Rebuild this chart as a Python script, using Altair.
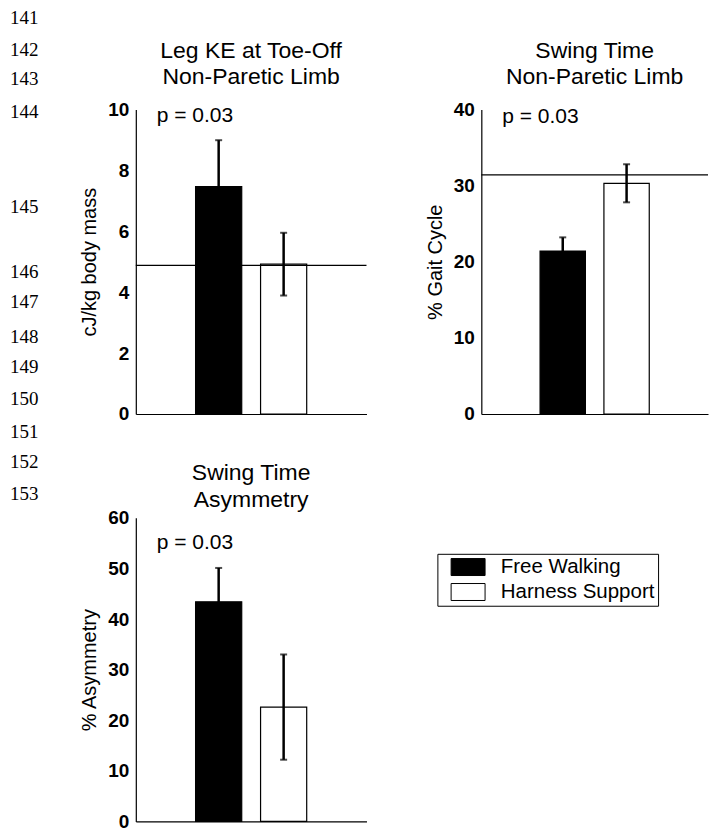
import altair as alt
import pandas as pd

# ---------------- data ----------------
conditions = ["Free Walking", "Harness Support"]

# Leg KE at Toe-Off, Non-Paretic Limb (cJ/kg body mass)
ke_mean = [7.47, 4.92]
ke_err = [1.52, 1.03]
ke_ref = [4.88]

# Swing Time, Non-Paretic Limb (% Gait Cycle)
swing_mean = [21.4, 30.3]
swing_err = [1.8, 2.5]
swing_ref = [31.4]

# Swing Time Asymmetry (% Asymmetry)
asym_mean = [43.4, 22.6]
asym_err = [6.7, 10.4]

p_labels = ["p = 0.03", "p = 0.03", "p = 0.03"]

# manuscript margin line numbers and their page rows (px from top of page)
line_numbers = ["141", "142", "143", "144", "145", "146", "147", "148", "149", "150",
                "151", "152", "153"]
line_rows = [18, 50, 80, 113, 208, 273, 303, 338, 368, 400, 433, 463, 495]

SANS = "Liberation Sans"
SERIF = "Liberation Serif"


def panel(mean, err, ref, title, ytitle, ymax, ystep, p_label, p_y,
          title_offset, width, height, show_legend=False):
    df = pd.DataFrame({
        "cond": conditions,
        "mean": mean,
        "lo": [m - e for m, e in zip(mean, err)],
        "hi": [m + e for m, e in zip(mean, err)],
    })
    base = alt.Chart(df)
    x = alt.X("cond:N", sort=conditions,
              scale=alt.Scale(domain=conditions, paddingInner=0.29, paddingOuter=0.92),
              axis=alt.Axis(labels=False, ticks=False, title=None,
                            domainColor="black", domainWidth=1.2))
    yscale = alt.Scale(domain=[0, ymax], nice=False, zero=True)
    y = alt.Y("mean:Q", scale=yscale,
              axis=alt.Axis(values=list(range(0, ymax + 1, ystep)), grid=False,
                            ticks=False, tickSize=0, labelPadding=7,
                            labelFont=SANS, labelFontSize=19, labelFontWeight="bold",
                            labelColor="black", domainColor="black", domainWidth=1.2,
                            title=ytitle, titleFont=SANS, titleFontSize=20,
                            titleFontWeight="normal", titleColor="black",
                            titlePadding=8))
    if show_legend:
        legend = alt.Legend(orient="none", legendX=302, legendY=36, title=None,
                            strokeColor="black", fillColor="white", padding=3,
                            symbolType="M0.06,-1H4.06V1H0.06Z", symbolSize=289,
                            symbolStrokeColor="black", symbolStrokeWidth=1,
                            symbolOpacity=1,
                            labelFont=SANS, labelFontSize=20.5, labelColor="black",
                            labelOffset=40, rowPadding=3, cornerRadius=0)
    else:
        legend = None
    fill = alt.Fill("cond:N", scale=alt.Scale(domain=conditions, range=["black", "white"]),
                    legend=legend)

    bars = base.mark_bar(stroke="black", strokeWidth=1.2).encode(x=x, y=y, fill=fill)
    whisk = base.mark_rule(color="black", strokeWidth=2.5).encode(
        x="cond:N", y="lo:Q", y2="hi:Q")
    cap_hi = base.mark_tick(color="black", size=7, thickness=2, orient="horizontal").encode(
        x="cond:N", y="hi:Q")
    cap_lo = base.mark_tick(color="black", size=7, thickness=2, orient="horizontal").encode(
        x="cond:N", y="lo:Q")
    layers = [bars, whisk, cap_hi, cap_lo]
    if ref:
        refline = alt.Chart(pd.DataFrame({"ref": ref})).mark_rule(
            color="black", strokeWidth=1.3).encode(y="ref:Q")
        layers.append(refline)
    ptext = alt.Chart(pd.DataFrame({"t": [p_label]})).mark_text(
        align="left", baseline="middle", font=SANS, fontSize=21, color="black"
    ).encode(x=alt.value(21), y=alt.datum(p_y), text="t:N")
    layers.append(ptext)

    return alt.layer(*layers).properties(
        width=width, height=height,
        title=alt.Title(title, font=SANS, fontSize=23, fontWeight="normal",
                        color="black", anchor="middle", lineHeight=27,
                        frame="group", offset=title_offset))


p1 = panel(ke_mean, ke_err, ke_ref, ["Leg KE at Toe-Off", "Non-Paretic Limb"],
           "cJ/kg body mass", 10, 2, p_labels[0], 9.78, 11, 231, 305)
p2 = panel(swing_mean, swing_err, swing_ref, ["Swing Time", "Non-Paretic Limb"],
           "% Gait Cycle", 40, 10, p_labels[1], 39.0, 11, 227, 305)
p3 = panel(asym_mean, asym_err, None, ["Swing Time", "Asymmetry"],
           "% Asymmetry", 60, 10, p_labels[2], 55.1, -3, 231, 304,
           show_legend=True)

# margin line numbers (placed in the last grid cell, whose origin is at page y 519)
margin = alt.Chart(pd.DataFrame({"n": line_numbers, "row": line_rows})).mark_text(
    align="left", baseline="middle", font=SERIF, fontSize=19, color="black"
).encode(
    x=alt.value(-472),
    y=alt.Y("row:Q", scale=alt.Scale(domain=[519, 823], range=[0, 304]), axis=None),
    text="n:N",
).properties(width=227, height=304)

chart = alt.concat(p1, p2, p3, margin, columns=2, bounds="flush",
                   spacing={"row": 104, "column": 115}).resolve_scale(
    fill="independent", y="independent").resolve_legend(fill="independent").properties(
    padding={"left": 10, "top": 8, "right": 0, "bottom": 8}
).configure(background="white", view=alt.ViewConfig(stroke=None))

chart.save("out.html", embed_options={"renderer": "svg", "actions": False})
